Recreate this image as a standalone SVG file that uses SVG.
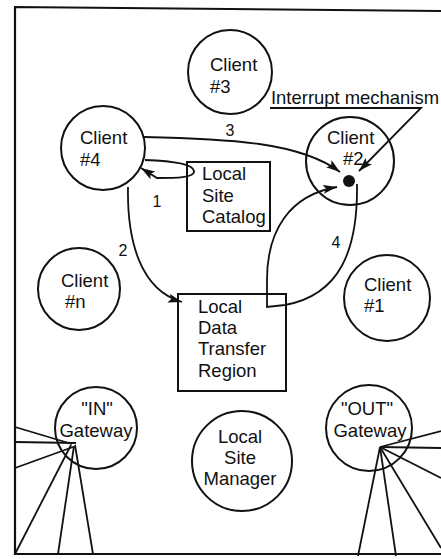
<svg xmlns="http://www.w3.org/2000/svg" width="441" height="559" viewBox="0 0 441 559">
  <style>
    .shape { fill: #fff; stroke: #111; stroke-width: 2; }
    .line { fill: none; stroke: #111; stroke-width: 1.8; }
    .frame { fill: none; stroke: #111; stroke-width: 2.2; }
    text { font-family: "Liberation Sans", Arial, sans-serif; font-size: 18.5px; fill: #111; }
    .num { font-size: 16px; }
    .mid { text-anchor: middle; }
  </style>
  <defs>
    <marker id="arrow" markerUnits="userSpaceOnUse" markerWidth="15" markerHeight="10" refX="14" refY="4.5" orient="auto">
      <path d="M0,0 L14,4.5 L0,9 L3,4.5 z" fill="#111"/>
    </marker>
  </defs>

  <rect width="441" height="559" fill="#fff"/>

  <!-- site boundary -->
  <path class="frame" d="M441,11 L15,7 L15,554 L441,554"/>

  <!-- nodes -->
  <g id="client3">
    <circle class="shape" cx="230" cy="72" r="42"/>
    <text x="210" y="71">Client</text>
    <text x="210" y="93">#3</text>
  </g>
  <g id="client4">
    <circle class="shape" cx="103" cy="148" r="42"/>
    <text x="80" y="144">Client</text>
    <text x="80" y="166">#4</text>
  </g>
  <g id="client2">
    <circle class="shape" cx="350" cy="161" r="44"/>
    <text x="327" y="144">Client</text>
    <text x="343" y="165">#2</text>
  </g>
  <g id="clientn">
    <circle class="shape" cx="79" cy="289" r="41"/>
    <text x="61" y="287">Client</text>
    <text x="65" y="308">#n</text>
  </g>
  <g id="client1">
    <circle class="shape" cx="387" cy="298" r="43"/>
    <text x="364" y="291">Client</text>
    <text x="364" y="312">#1</text>
  </g>
  <g id="catalog">
    <rect class="shape" x="187" y="162" width="83" height="69"/>
    <text x="202" y="180">Local</text>
    <text x="202" y="202">Site</text>
    <text x="202" y="223">Catalog</text>
  </g>
  <g id="transfer-region">
    <rect class="shape" x="178" y="294" width="108" height="97"/>
    <text x="198" y="313">Local</text>
    <text x="198" y="334">Data</text>
    <text x="198" y="355">Transfer</text>
    <text x="198" y="377">Region</text>
  </g>
  <g id="gateway-in">
    <circle class="shape" cx="96" cy="428" r="41"/>
    <text class="mid" x="97" y="415">"IN"</text>
    <text class="mid" x="96" y="437">Gateway</text>
  </g>
  <g id="gateway-out">
    <circle class="shape" cx="369" cy="428" r="43"/>
    <text class="mid" x="367" y="415">"OUT"</text>
    <text class="mid" x="370" y="437">Gateway</text>
  </g>
  <g id="site-manager">
    <circle class="shape" cx="242" cy="461" r="50"/>
    <text class="mid" x="240" y="443">Local</text>
    <text class="mid" x="240" y="464">Site</text>
    <text class="mid" x="240" y="485">Manager</text>
  </g>

  <!-- connectors -->
  <g id="connectors" class="line">
    <!-- gateway fan-out lines -->
    <line x1="15" y1="427" x2="72" y2="444"/>
    <line x1="15" y1="442" x2="76" y2="443"/>
    <line x1="15" y1="468" x2="73" y2="447"/>
    <line x1="71" y1="445" x2="15" y2="554"/>
    <line x1="74" y1="446" x2="58" y2="554"/>
    <line x1="75" y1="445" x2="93" y2="554"/>
    <line x1="380" y1="447" x2="441" y2="431"/>
    <line x1="380" y1="447" x2="441" y2="448"/>
    <line x1="380" y1="447" x2="441" y2="478"/>
    <line x1="380" y1="447" x2="358" y2="556"/>
    <line x1="380" y1="447" x2="396" y2="556"/>
    <line x1="380" y1="447" x2="441" y2="548"/>
    <!-- numbered flows -->
    <path d="M145,160 C175,161 193,164 194,171 C195,178 175,178 157,178 L141,168" marker-end="url(#arrow)"/>
    <path d="M128,187 C127,240 140,290 182,302" marker-end="url(#arrow)"/>
    <path d="M144,137 C230,139 300,142 340,172" marker-end="url(#arrow)"/>
    <path d="M357,184 C358,250 340,295 285,305 L267,307 L267,280 C267,230 290,195 337,187" marker-end="url(#arrow)"/>
    <path d="M270,108 L421,108 L359,171" marker-end="url(#arrow)"/>
  </g>
  <circle id="interrupt-point" cx="349" cy="181" r="6" fill="#111"/>

  <!-- labels -->
  <g id="labels">
    <text x="271" y="104" textLength="168" lengthAdjust="spacingAndGlyphs">Interrupt mechanism</text>
    <text class="num mid" x="230" y="136">3</text>
    <text class="num mid" x="157" y="207">1</text>
    <text class="num mid" x="123" y="256">2</text>
    <text class="num mid" x="336" y="248">4</text>
  </g>
</svg>
